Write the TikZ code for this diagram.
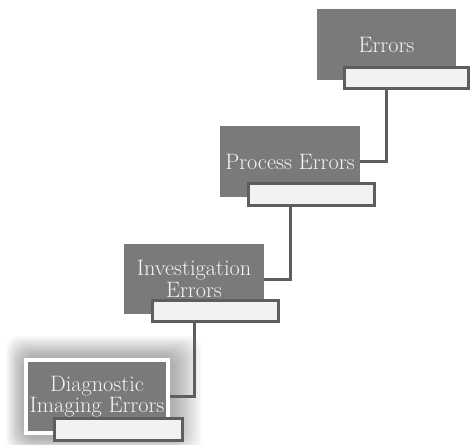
\documentclass[tikz,border=0pt]{standalone}
\usepackage{xcolor}
\definecolor{boxgray}{HTML}{7A7A7A}
\definecolor{linegray}{HTML}{5E5E5E}
\definecolor{tabfill}{HTML}{F2F2F2}
\definecolor{txt}{HTML}{F4F4F4}
\begin{document}
\begin{tikzpicture}[x=1pt,y=-1pt,
  darkbox/.style={draw=none,fill=boxgray,inner sep=0pt,align=center,text=txt,
    font=\fontsize{22.3}{21.5}\selectfont},
  tab/.style={draw=linegray,line width=3pt,fill=tabfill,inner sep=0pt},
  conn/.style={draw=linegray,line width=3pt}]
\useasboundingbox (0,0) rectangle (470,444);
\fill[white] (0,0) rectangle (470,444);
% glow around bottom box
\foreach \i in {0,...,13}{
  \fill[black,opacity=0.022,rounded corners=14pt]
    ({6+\i*1.3},{336+\i*1.5}) rectangle ({202-\i*2.1},{452-\i*1});
}
% boxes
\node[darkbox,minimum width=139pt,minimum height=71pt] (B1) at (386.5,44.5) {Errors};
\node[tab,minimum width=124pt,minimum height=21pt] (W1) at (406.5,78) {};
\node[darkbox,minimum width=140pt,minimum height=71pt] (B2) at (290,161.5) {Process Errors};
\node[tab,minimum width=126pt,minimum height=22pt] (W2) at (311.5,194.5) {};
\node[darkbox,minimum width=140pt,minimum height=70pt] (B3) at (194,279) {Investigation\\Errors};
\node[tab,minimum width=126pt,minimum height=21pt] (W3) at (215.5,311) {};
\node[darkbox,draw=white,line width=4pt,minimum width=142pt,minimum height=73pt] (B4) at (97,396.5) {Diagnostic\\Imaging Errors};
\node[tab,minimum width=128pt,minimum height=22pt] (W4) at (118.5,429.5) {};
% connectors
\draw[conn] (W1.south -| B1) |- (B2.east);
\draw[conn] (W2.south -| B2) |- (B3.east);
\draw[conn] (W3.south -| B3) |- (B4.east);
\end{tikzpicture}
\end{document}
